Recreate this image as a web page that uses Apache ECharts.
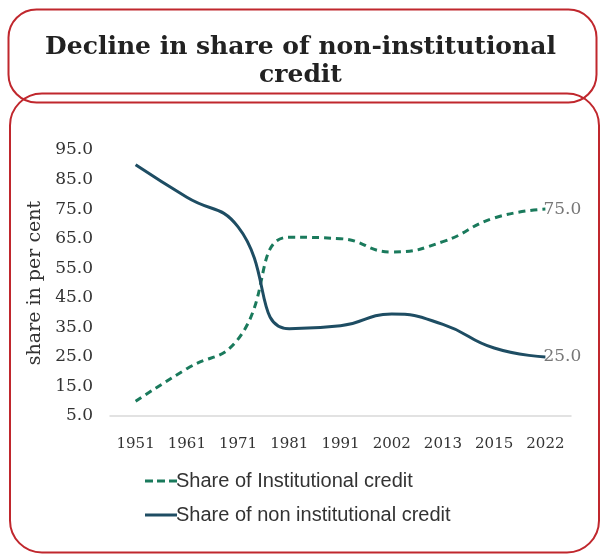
<!DOCTYPE html>
<html><head><meta charset="utf-8">
<script src="https://cdn.jsdelivr.net/npm/echarts@6/dist/echarts.min.js"></script>
<style>html,body{margin:0;padding:0;background:#fff}#c{width:601px;height:555px}</style>
</head><body><div id="c"></div>
<script>
const years = ['1951','1961','1971','1981','1991','2002','2013','2015','2022'];
const institutional = [10, 21, 31, 65.5, 65, 60.5, 64, 72, 75];
const nonInstitutional = [90, 79, 69, 34.5, 35.5, 39.5, 36, 28, 25];
const seriesNames = ['Share of Institutional credit', 'Share of non institutional credit'];
const titleText = 'Decline in share of non-institutional\ncredit';
const yName = 'share in per cent';

const chart = echarts.init(document.getElementById('c'));
const serif = 'DejaVu Serif';
const dashIcon = 'path://M0,0h8v3h-8zM12,0h8v3h-8zM24,0h8v3h-8z';
const solidIcon = 'path://M0,0h32v3h-32z';
const endLbl = {show:true, distance:-2, formatter:p=>Number(p.value).toFixed(1), fontFamily:serif, fontSize:17, color:'#777'};
chart.setOption({
  animation:false,
  graphic:[
    {type:'rect', shape:{x:8.5,y:9.5,width:588,height:93,r:28}, style:{fill:'none',stroke:'#c0272d',lineWidth:2}, z:0},
    {type:'rect', shape:{x:10,y:93.5,width:589,height:459,r:32}, style:{fill:'none',stroke:'#c0272d',lineWidth:2}, z:0}
  ],
  title:{text:titleText, left:'center', top:28, textStyle:{fontFamily:serif, fontWeight:'bold', fontSize:25, color:'#222', lineHeight:28}},
  grid:{left:110, right:30, top:150, bottom:139},
  legend:{orient:'vertical', left:140, top:466, itemWidth:32, itemHeight:3, itemGap:14,
    data:[{name:seriesNames[0], icon:dashIcon},{name:seriesNames[1], icon:solidIcon}],
    textStyle:{fontFamily:'Liberation Sans Narrow, Liberation Sans', fontSize:20, color:'#333', padding:[0,0,0,-6]}},
  xAxis:{type:'category', data:years, boundaryGap:true,
    axisLine:{lineStyle:{color:'#d9d9d9', width:1.5}}, axisTick:{show:false},
    axisLabel:{fontFamily:serif, fontSize:15, color:'#333', margin:21}},
  yAxis:{type:'value', min:5, max:95, interval:5, name:yName, nameLocation:'middle', nameGap:64, nameRotate:90,
    nameTextStyle:{fontFamily:serif, fontSize:19, color:'#333'},
    axisLine:{show:false}, axisTick:{show:false}, splitLine:{show:false},
    axisLabel:{fontFamily:serif, fontSize:17, color:'#333', margin:17,
      formatter:v=> (Math.round(v-5)%10===0 ? v.toFixed(1) : '')}},
  series:[
    {name:seriesNames[0], type:'line', data:institutional, smooth:0.5, symbol:'none',
      lineStyle:{color:'#1a7a5c', width:3, type:[7,5]}, itemStyle:{color:'#1a7a5c'}, endLabel:endLbl},
    {name:seriesNames[1], type:'line', data:nonInstitutional, smooth:0.5, symbol:'none',
      lineStyle:{color:'#1e4d63', width:3}, itemStyle:{color:'#1e4d63'}, endLabel:endLbl}
  ]
});
</script></body></html>
